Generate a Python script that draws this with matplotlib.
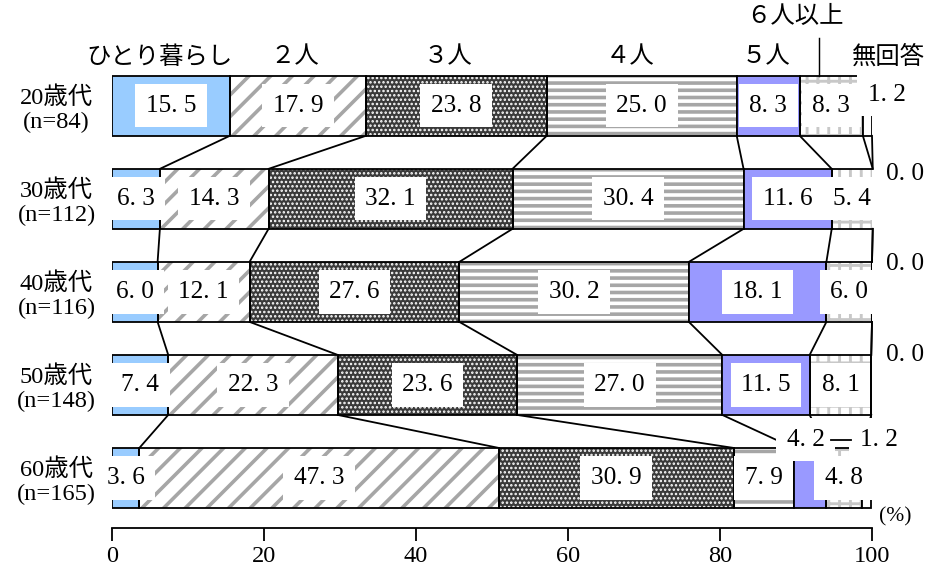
import numpy as np
import matplotlib
matplotlib.use('Agg')
import matplotlib.pyplot as plt

plt.rcParams['font.family'] = ['Liberation Serif', 'Noto Sans CJK JP']
plt.rcParams['hatch.linewidth'] = 2.0

DPI = 130
W, H = 928, 568

categories = ['ひとり暮らし', '２人', '３人', '４人', '５人', '６人以上', '無回答']
groups = ['20歳代', '30歳代', '40歳代', '50歳代', '60歳代']
sizes = [84, 112, 116, 148, 165]

shares = np.array([
    [15.5, 17.9, 23.8, 25.0, 8.3, 8.3, 1.2],
    [6.3, 14.3, 32.1, 30.4, 11.6, 5.4, 0.0],
    [6.0, 12.1, 27.6, 30.2, 18.1, 6.0, 0.0],
    [7.4, 22.3, 23.6, 27.0, 11.5, 8.1, 0.0],
    [3.6, 47.3, 30.9, 7.9, 4.2, 4.8, 1.2],
])

# fill colour, hatch, hatch colour, hatch width for each household size
styles = [
    ('#99ccff', None, None, None),
    ('white', '//', '#a6a6a6', 2.0),
    ('#3a3a3a', '.....', 'white', 0.9),
    ('white', '---', '#a6a6a6', 2.0),
    ('#9999ff', None, None, None),
    ('white', '++', '#c8c8c8', 1.6),
    ('white', None, None, None),
]

BAR_H = 0.645


def fmt(v):
    return f'{v:.1f}'.replace('.', '. ')


fig = plt.figure(figsize=(W / DPI, H / DPI), dpi=DPI)
ax = fig.add_axes([112 / W, 40 / H, 760 / W, 478 / H])

starts = np.cumsum(shares, axis=1) - shares
ends = starts + shares
rows = np.arange(len(groups))

for j, (fc, hatch, hc, hlw) in enumerate(styles):
    if hatch:
        with plt.rc_context({'hatch.linewidth': hlw}):
            bars = ax.barh(rows, shares[:, j], left=starts[:, j], height=BAR_H,
                           color=fc, hatch=hatch, edgecolor=hc, linewidth=0,
                           zorder=2)
        for p in bars:
            if hasattr(p, 'set_hatch_linewidth'):
                p.set_hatch_linewidth(hlw)
        ax.barh(rows, shares[:, j], left=starts[:, j], height=BAR_H,
                fill=False, edgecolor='black', linewidth=1.0, zorder=3)
    else:
        ax.barh(rows, shares[:, j], left=starts[:, j], height=BAR_H,
                color=fc, edgecolor='black', linewidth=1.0, zorder=3)

# connector lines between neighbouring bars at each boundary
for i in range(len(groups) - 1):
    for k in range(len(categories)):
        ax.plot([ends[i, k], ends[i + 1, k]],
                [i + BAR_H / 2, i + 1 - BAR_H / 2],
                color='black', linewidth=1.0, zorder=1, clip_on=False)

box = dict(boxstyle='square,pad=0.42', facecolor='white', edgecolor='none')
fs = 13.5
nfs = 14

# labels placed away from the centre of their segment: (row, col) -> (x, dy)
outside = {
    (0, 6): (101.9, -0.12),
    (1, 6): (104.3, -0.27),
    (2, 6): (104.3, -0.30),
    (3, 6): (104.3, -0.32),
    (4, 4): (91.3, -0.41),
    (4, 6): (100.9, -0.41),
}

for i in range(len(groups)):
    for j in range(len(categories)):
        v = shares[i, j]
        if (i, j) in outside:
            x, dy = outside[(i, j)]
            ax.text(x, i + dy, fmt(v), ha='center', va='center', fontsize=nfs,
                    bbox=box, zorder=5, clip_on=False)
        else:
            ax.text(starts[i, j] + v / 2, i, fmt(v), ha='center', va='center',
                    fontsize=nfs, bbox=box, zorder=5)

# short dash between the two small 60s labels
ax.plot([94.6, 97.3], [4 - 0.41, 4 - 0.41], color='black', linewidth=1.0,
        zorder=6, clip_on=False)

# category headers
head_y = -0.52
head_x = [6.2, 24.1, 44.2, 68.2, 86.1, None, 102.2]
for j, name in enumerate(categories):
    if head_x[j] is None:
        continue
    ax.text(head_x[j], head_y, name, ha='center', va='center', fontsize=fs,
            clip_on=False)
ax.text(89.9, -0.95, categories[5], ha='center', va='center', fontsize=fs,
        clip_on=False)
ax.plot([93.0, 93.0], [-0.73, -BAR_H / 2], color='black', linewidth=0.8,
        clip_on=False)

# row labels
for i, (g, n) in enumerate(zip(groups, sizes)):
    ax.text(-7.3, i + 0.04, f'{g}\n(n={n})', ha='center', va='center',
            fontsize=fs, linespacing=1.2, clip_on=False)

ax.text(103.0, 4.42, '(%)', ha='center', va='center', fontsize=fs - 1.5,
        clip_on=False)

ax.set_xlim(0, 100)
ax.set_ylim(4.538, -0.6)
ax.set_xticks([0, 20, 40, 60, 80, 100])
ax.set_yticks([])
ax.tick_params(axis='x', direction='out', length=7, width=1.0, labelsize=fs,
               pad=3)
for side in ['top', 'right', 'left']:
    ax.spines[side].set_visible(False)
ax.spines['bottom'].set_linewidth(1.0)

fig.savefig('out.png', dpi=DPI)
